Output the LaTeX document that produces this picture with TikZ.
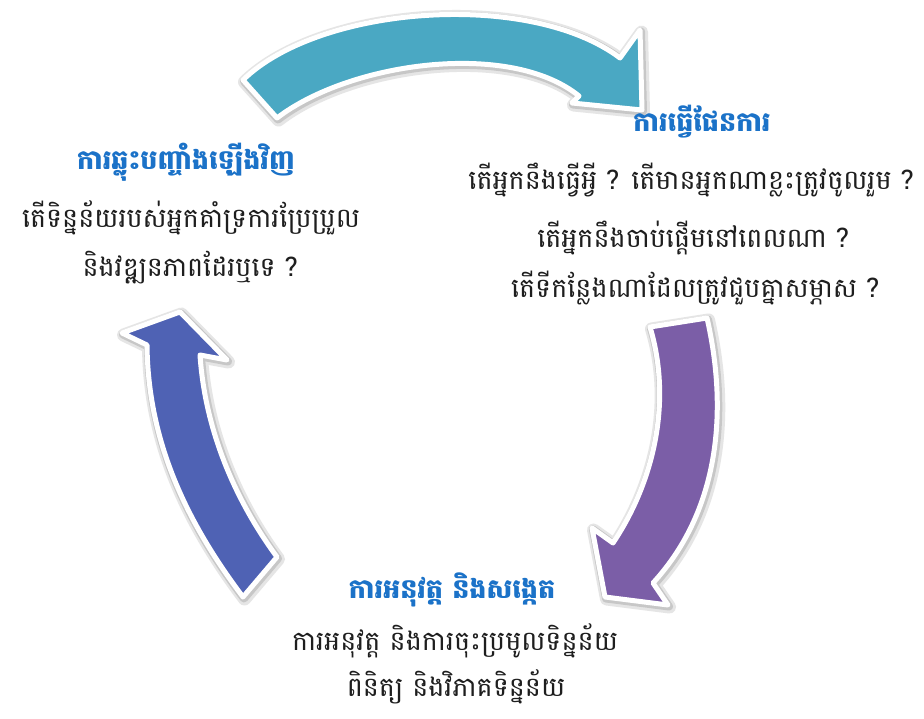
\documentclass[tikz,border=0pt]{standalone}
\usepackage{fontspec}
\newfontfamily\khmer[Script=Khmer]{Battambang}
\definecolor{tealarrow}{HTML}{4AA8C3}
\definecolor{purplearrow}{HTML}{7B5EA7}
\definecolor{bluearrow}{HTML}{4F62B4}
\definecolor{titleblue}{HTML}{1B72C8}
\definecolor{bodytext}{HTML}{1E1E1E}
\begin{document}
\begin{tikzpicture}[x=1pt,y=-1pt,
  arrowshape/.style={draw=white, line width=5pt, line join=round,
    preaction={draw=black!10, fill=black!10, line width=13pt, line join=round,
      transform canvas={xshift=1.5pt,yshift=-2pt}},
    preaction={draw=black!22, fill=black!22, line width=8pt, line join=round,
      transform canvas={xshift=1pt,yshift=-1.5pt}}},
  titletext/.style={font=\khmer\bfseries\fontsize{27}{30}\selectfont, text=titleblue, inner sep=0pt},
  bodytextstyle/.style={font=\khmer\fontsize{27}{30}\selectfont, text=bodytext, inner sep=0pt}]
\useasboundingbox[fill=white] (0,0) rectangle (924,719);
% top arrow (teal)
\path[arrowshape, fill=tealarrow] (243,80) .. controls (320,5) and (530,-10) .. (620,58)
  -- (640,30) -- (642,110) -- (572,103) -- (579,96)
  .. controls (510,40) and (350,62) .. (277,118) -- cycle;
% right arrow (purple)
\path[arrowshape, fill=purplearrow] (650,327) -- (707,318)
  .. controls (728,410) and (720,510) .. (653,583)
  -- (668,605) -- (605,597) -- (592,528) -- (613,543)
  .. controls (655,480) and (672,400) .. (650,327) -- cycle;
% left arrow (blue)
\path[arrowshape, fill=bluearrow] (243,597) .. controls (185,520) and (148,440) .. (147,345)
  -- (122,333) -- (180,312) -- (227,360) -- (200,355)
  .. controls (205,430) and (235,500) .. (277,557) -- cycle;
% left block
\node[titletext] (reflecttitle) at (186,162) {ការឆ្លុះបញ្ចាំងឡើងវិញ};
\node[bodytextstyle] (reflectA) at (191,218) {តើទិន្នន័យរបស់អ្នកគាំទ្រការប្រែប្រួល};
\node[bodytextstyle] (reflectB) at (190,268) {និងវឌ្ឍនភាពដែរឬទេ ?};
% right block
\node[titletext] (plantitle) at (702,122) {ការធ្វើផែនការ};
\node[bodytextstyle] (planA) at (691,180) {តើអ្នកនឹងធ្វើអ្វី ? តើមានអ្នកណាខ្លះត្រូវចូលរួម ?};
\node[bodytextstyle] (planB) at (693,238) {តើអ្នកនឹងចាប់ផ្តើមនៅពេលណា ?};
\node[bodytextstyle] (planC) at (695,288) {តើទីកន្លែងណាដែលត្រូវជួបគ្នាសម្ភាស ?};
% bottom block
\node[titletext] (acttitle) at (452,590) {ការអនុវត្ត និងសង្កេត};
\node[bodytextstyle] (actA) at (455,641) {ការអនុវត្ត និងការចុះប្រមូលទិន្នន័យ};
\node[bodytextstyle] (actB) at (456,687) {ពិនិត្យ និងវិភាគទិន្នន័យ};
\end{tikzpicture}
\end{document}
